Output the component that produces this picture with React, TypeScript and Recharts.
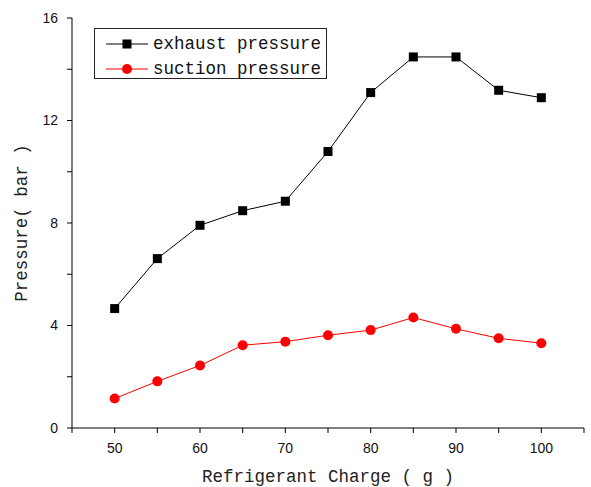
import { LineChart, Line, XAxis, YAxis, Label } from "recharts";

const charge = [50, 55, 60, 65, 70, 75, 80, 85, 90, 95, 100];
const exhaust = [4.66, 6.61, 7.91, 8.48, 8.85, 10.79, 13.09, 14.48, 14.48, 13.18, 12.89];
const suction = [1.15, 1.82, 2.44, 3.23, 3.37, 3.62, 3.82, 4.31, 3.87, 3.5, 3.31];

const xTicks = [45, 50, 55, 60, 65, 70, 75, 80, 85, 90, 95, 100, 105];
const yTicks = [0, 2, 4, 6, 8, 10, 12, 14, 16];

const data = charge.map((c, i) => ({ charge: c, exhaust: exhaust[i], suction: suction[i] }));

const titleFont = "'Liberation Mono', monospace";
const tickFont = "'Liberation Sans', Arial, sans-serif";

const Square = (props: any) => {
  const { cx, cy, index } = props;
  return <rect key={index} x={cx - 4.5} y={cy - 4.5} width={9} height={9} fill="#000" />;
};

const legendItems = [
  { name: "exhaust pressure", color: "#000", square: true },
  { name: "suction pressure", color: "#f00", square: false },
];

const LegendBox = () => (
  <div
    style={{
      position: "absolute",
      left: 94,
      top: 28,
      width: 233,
      height: 51,
      border: "1px solid #222",
      background: "#fff",
      fontFamily: titleFont,
      fontSize: 17.5,
      color: "#111",
      paddingTop: 3,
      boxSizing: "border-box",
    }}
  >
    {legendItems.map((e) => (
      <div key={e.name} style={{ display: "flex", alignItems: "center", height: 24.5 }}>
        <svg width={60} height={20} style={{ marginLeft: 10 }}>
          <line x1={1} y1={10} x2={43} y2={10} stroke={e.color} strokeWidth={1} />
          {e.square ? (
            <rect x={17.5} y={5.5} width={9} height={9} fill={e.color} />
          ) : (
            <circle cx={22} cy={10} r={5} fill={e.color} />
          )}
        </svg>
        <span style={{ marginLeft: -12, lineHeight: "20px" }}>{e.name}</span>
      </div>
    ))}
  </div>
);

export default function App() {
  return (
    <div style={{ position: "absolute", left: 0, top: 0, width: 591, height: 487, background: "#fff" }}>
      <style>{`body{margin:0}`}</style>
      <LineChart width={591} height={487} data={data} margin={{ top: 18, right: 7, bottom: 0, left: 0 }}>
        <XAxis
          dataKey="charge"
          type="number"
          domain={[45, 105]}
          ticks={xTicks}
          interval={0}
          tickFormatter={(v: number) => (v % 10 === 0 && v >= 50 && v <= 100 ? String(v) : "")}
          stroke="#000"
          tickSize={5}
          tickMargin={10}
          height={59}
          tick={{ fill: "#111", fontSize: 14, fontFamily: tickFont }}
        >
          <Label
            value="Refrigerant Charge ( g )"
            position="insideBottom"
            offset={5}
            style={{ fontFamily: titleFont, fontSize: 17.5, fill: "#222" }}
          />
        </XAxis>
        <YAxis
          type="number"
          domain={[0, 16]}
          ticks={yTicks}
          interval={0}
          tickFormatter={(v: number) => (v % 4 === 0 ? String(v) : "")}
          stroke="#000"
          tickSize={5}
          tickMargin={9}
          width={72}
          tick={{ fill: "#111", fontSize: 14, fontFamily: tickFont }}
        >
          <Label
            content={(props: any) => {
              const vb = props.viewBox;
              const x = 22;
              const y = vb.y + vb.height / 2;
              return (
                <text
                  x={x}
                  y={y}
                  transform={`rotate(-90 ${x} ${y})`}
                  textAnchor="middle"
                  dominantBaseline="central"
                  style={{ fontFamily: titleFont, fontSize: 17.5, fill: "#222" }}
                >
                  Pressure( bar )
                </text>
              );
            }}
          />
        </YAxis>
        <Line
          dataKey="exhaust"
          name="exhaust pressure"
          stroke="#000"
          strokeWidth={1}
          dot={Square}
          isAnimationActive={false}
        />
        <Line
          dataKey="suction"
          name="suction pressure"
          stroke="#f00"
          strokeWidth={1}
          dot={{ r: 5, fill: "#f00", stroke: "none" }}
          isAnimationActive={false}
        />
      </LineChart>
      <LegendBox />
    </div>
  );
}
